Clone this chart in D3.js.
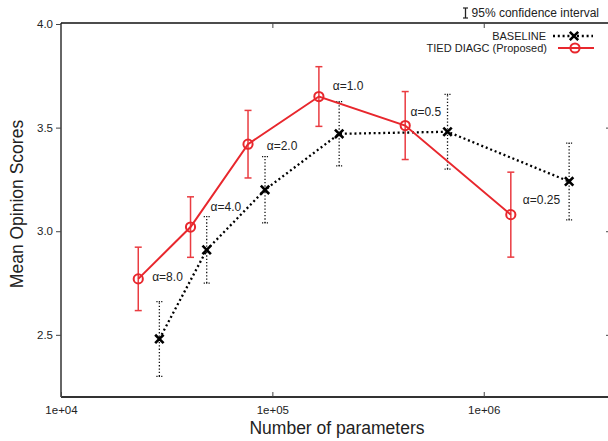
<!DOCTYPE html>
<html>
<head>
<meta charset="utf-8">
<script src="https://cdn.jsdelivr.net/npm/d3@7"></script>
<style>
  body { margin: 0; background: #fff; }
  text { font-family: "Liberation Sans", Arial, sans-serif; fill: #222; }
</style>
</head>
<body>
<div id="chart"></div>
<script>
// chart values
var alphas = ["8.0", "4.0", "2.0", "1.0", "0.5", "0.25"];

var baselineParams = [29200, 48900, 92300, 207000, 674000, 2535000];
var baselineMOS    = [2.48, 2.91, 3.20, 3.47, 3.48, 3.24];
var baselineCI     = [0.18, 0.16, 0.16, 0.155, 0.18, 0.185];

var tiedParams = [23200, 41000, 76700, 166000, 425000, 1343000];
var tiedMOS    = [2.77, 3.02, 3.42, 3.65, 3.51, 3.08];
var tiedCI     = [0.153, 0.146, 0.163, 0.144, 0.164, 0.205];

// where the alpha labels sit, in data units (left edge, middle)
var labelParams = [27000, 51000, 94000, 193000, 450000, 1530000];
var labelMOS    = [2.78, 3.12, 3.41, 3.70, 3.575, 3.15];

var xTicks = [1e4, 1e5, 1e6];
var yTicks = [2.5, 3.0, 3.5, 4.0];

var width = 608, height = 441;
var margin = {left: 61, top: 24, bottom: 397, right: 611};

var red = "#e8272d";

var x = d3.scaleLog().domain([1e4, 4e6]).range([margin.left, margin.right]);
var y = d3.scaleLinear().domain([2.2, 4.0]).range([margin.bottom, margin.top]);

var svg = d3.select("#chart").append("svg")
    .attr("width", width)
    .attr("height", height);

// frame: left, bottom, top (right side falls off the picture)
var frame = svg.append("g").attr("fill", "none");
frame.append("line")
    .attr("x1", margin.left).attr("x2", margin.left)
    .attr("y1", margin.top - 1).attr("y2", margin.bottom)
    .attr("stroke", "#333").attr("stroke-width", 1.5);
frame.append("line")
    .attr("x1", margin.left).attr("x2", width)
    .attr("y1", margin.bottom).attr("y2", margin.bottom)
    .attr("stroke", "#333").attr("stroke-width", 1.8);
frame.append("line")
    .attr("x1", margin.left).attr("x2", width)
    .attr("y1", margin.top - 1).attr("y2", margin.top - 1)
    .attr("stroke", "#111").attr("stroke-width", 1.4);

var fmt = function(d) { return "1e+0" + Math.round(Math.log10(d)); };

// x axis, ticks pointing in
var xAxis = svg.append("g")
    .attr("transform", "translate(0," + margin.bottom + ")")
    .call(d3.axisBottom(x).tickValues(xTicks).tickFormat(fmt).tickSize(-5).tickPadding(9));
xAxis.select(".domain").remove();
xAxis.selectAll("text").style("font-size", "11.5px").attr("fill", "#333");
xAxis.selectAll("line").attr("stroke", "#444");

var xTop = svg.append("g")
    .attr("transform", "translate(0," + (margin.top - 1) + ")")
    .call(d3.axisTop(x).tickValues(xTicks.slice(1)).tickFormat("").tickSize(-5));
xTop.select(".domain").remove();
xTop.selectAll("line").attr("stroke", "#444");

// y axis
var yAxis = svg.append("g")
    .attr("transform", "translate(" + margin.left + ",0)")
    .call(d3.axisLeft(y).tickValues(yTicks).tickFormat(d3.format(".1f")).tickSize(5).tickPadding(3));
yAxis.select(".domain").remove();
yAxis.selectAll("text").style("font-size", "11.5px").attr("fill", "#333");
yAxis.selectAll("line").attr("stroke", "#444");

var yRight = svg.append("g")
    .attr("transform", "translate(" + margin.right + ",0)")
    .call(d3.axisRight(y).tickValues(yTicks.slice(0, 3)).tickFormat("").tickSize(-5));
yRight.select(".domain").remove();
yRight.selectAll("line").attr("stroke", "#444");

// axis titles
svg.append("text")
    .attr("x", 337).attr("y", 434)
    .attr("text-anchor", "middle")
    .style("font-size", "17.5px")
    .text("Number of parameters");

svg.append("text")
    .attr("transform", "translate(23,204) rotate(-90)")
    .attr("text-anchor", "middle")
    .style("font-size", "17.5px")
    .text("Mean Opinion Scores");

var baseline = baselineParams.map(function(p, i) {
  return {n: p, v: baselineMOS[i], ci: baselineCI[i]};
});
var tied = tiedParams.map(function(p, i) {
  return {n: p, v: tiedMOS[i], ci: tiedCI[i]};
});

var line = d3.line()
    .x(function(d) { return x(d.n); })
    .y(function(d) { return y(d.v); });

// baseline error bars (dotted)
var bErr = svg.append("g").attr("stroke", "#111").attr("stroke-width", 1.3)
    .attr("stroke-dasharray", "1.3 2");
baseline.forEach(function(d) {
  var cx = x(d.n);
  bErr.append("line").attr("x1", cx).attr("x2", cx)
      .attr("y1", y(d.v - d.ci)).attr("y2", y(d.v + d.ci));
  [d.v - d.ci, d.v + d.ci].forEach(function(e) {
    bErr.append("line").attr("x1", cx - 3).attr("x2", cx + 3)
        .attr("y1", y(e)).attr("y2", y(e))
        .attr("stroke-dasharray", "1.2 1.2");
  });
});

// tied diagc error bars
var tErr = svg.append("g").attr("stroke", red).attr("stroke-width", 1.5).attr("opacity", 0.9);
tied.forEach(function(d) {
  var cx = x(d.n);
  tErr.append("line").attr("x1", cx).attr("x2", cx)
      .attr("y1", y(d.v - d.ci)).attr("y2", y(d.v + d.ci));
  [d.v - d.ci, d.v + d.ci].forEach(function(e) {
    tErr.append("line").attr("x1", cx - 3.5).attr("x2", cx + 3.5)
        .attr("y1", y(e)).attr("y2", y(e));
  });
});

// lines
svg.append("path")
    .datum(baseline)
    .attr("d", line)
    .attr("fill", "none")
    .attr("stroke", "#000")
    .attr("stroke-width", 2.3)
    .attr("stroke-dasharray", "2 2.8");

svg.append("path")
    .datum(tied)
    .attr("d", line)
    .attr("fill", "none")
    .attr("stroke", red)
    .attr("stroke-width", 2);

// markers
function cross(g, cx, cy) {
  var s = 4.2;
  g.append("path")
      .attr("d", "M" + (cx - s) + "," + (cy - s) + "L" + (cx + s) + "," + (cy + s) +
                 "M" + (cx - s) + "," + (cy + s) + "L" + (cx + s) + "," + (cy - s))
      .attr("stroke", "#000").attr("stroke-width", 2.6);
}
function ring(g, cx, cy) {
  g.append("circle")
      .attr("cx", cx).attr("cy", cy).attr("r", 4.6)
      .attr("fill", "none").attr("stroke", red).attr("stroke-width", 2);
}

var marks = svg.append("g");
baseline.forEach(function(d) { cross(marks, x(d.n), y(d.v)); });
tied.forEach(function(d) { ring(marks, x(d.n), y(d.v)); });

// alpha labels
svg.append("g").selectAll("text")
    .data(alphas)
    .enter()
    .append("text")
    .attr("x", function(d, i) { return x(labelParams[i]); })
    .attr("y", function(d, i) { return y(labelMOS[i]); })
    .attr("dy", "0.35em")
    .style("font-size", "12px")
    .attr("fill", "#333")
    .text(function(d) { return "\u03b1=" + d; });

// key
var key = svg.append("g");
key.append("line")
    .attr("x1", 465.5).attr("x2", 465.5).attr("y1", 8).attr("y2", 18)
    .attr("stroke", "#222").attr("stroke-width", 1.3);
[8, 18].forEach(function(yy) {
  key.append("line").attr("x1", 463).attr("x2", 468).attr("y1", yy).attr("y2", yy)
      .attr("stroke", "#222").attr("stroke-width", 1.2);
});
key.append("text")
    .attr("x", 599).attr("y", 13).attr("dy", "0.35em")
    .attr("text-anchor", "end")
    .style("font-size", "12px")
    .text("95% confidence interval");

key.append("text")
    .attr("x", 546).attr("y", 36).attr("dy", "0.35em")
    .attr("text-anchor", "end")
    .style("font-size", "11px")
    .text("BASELINE");
key.append("line")
    .attr("x1", 553).attr("x2", 593).attr("y1", 36).attr("y2", 36)
    .attr("stroke", "#000").attr("stroke-width", 2.3).attr("stroke-dasharray", "2 2.8");
cross(key, 574, 36);

key.append("text")
    .attr("x", 547).attr("y", 48).attr("dy", "0.35em")
    .attr("text-anchor", "end")
    .style("font-size", "11px")
    .text("TIED DIAGC (Proposed)");
key.append("line")
    .attr("x1", 558).attr("x2", 594).attr("y1", 48).attr("y2", 48)
    .attr("stroke", red).attr("stroke-width", 2);
ring(key, 575, 48);
</script>
</body>
</html>
